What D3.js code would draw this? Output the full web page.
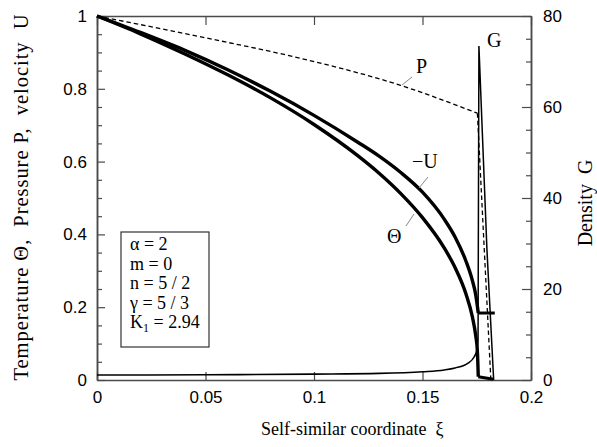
<!DOCTYPE html>
<html>
<head>
<meta charset="utf-8">
<script src="https://cdn.jsdelivr.net/npm/d3@7"></script>
<style>
  html, body { margin: 0; padding: 0; background: #fff; }
  svg { display: block; }
  .serif { font-family: "Liberation Serif", "Times New Roman", serif; }
  .sans { font-family: "Liberation Sans", Arial, sans-serif; }
</style>
</head>
<body>
<svg id="chart" width="597" height="447"></svg>
<script>
// ---- Data ----
const thetaX = [0, 0.02, 0.04, 0.06, 0.08, 0.10, 0.12, 0.13, 0.14, 0.15, 0.16, 0.165, 0.17, 0.173, 0.1745, 0.1753, 0.1757];
const thetaY = [1.0, 0.951, 0.897, 0.839, 0.775, 0.702, 0.617, 0.568, 0.512, 0.446, 0.363, 0.309, 0.237, 0.173, 0.123, 0.078, 0.009];
const thetaTailX = [0.1757, 0.1827];
const thetaTailY = [0.009, 0.002];

const negUX = [0, 0.02, 0.04, 0.06, 0.08, 0.10, 0.12, 0.13, 0.14, 0.15, 0.16, 0.165, 0.17, 0.173, 0.1745, 0.1757];
const negUY = [1.0, 0.955, 0.907, 0.853, 0.793, 0.727, 0.654, 0.615, 0.570, 0.516, 0.442, 0.393, 0.327, 0.273, 0.235, 0.184];
const negUBarX = [0.1756, 0.1833];
const negUBarY = [0.184, 0.184];

const pX = [0, 0.05, 0.09, 0.1396, 0.1753];
const pY = [1.0, 0.940, 0.889, 0.810, 0.733];
const pTailX = [0.1753, 0.1815];
const pTailY = [0.733, 0.0];

const gBaseX = [0, 0.05, 0.1, 0.13, 0.15, 0.16, 0.165, 0.171, 0.1737, 0.1751, 0.1756];
const gBaseY = [1.1, 1.15, 1.3, 1.45, 1.8, 2.2, 2.64, 3.7, 5.0, 6.6, 8.8];
const gSpikeX = [0.1756, 0.1760, 0.1797, 0.1828];
const gSpikeY = [8.8, 73.4, 28.6, 0.0];

const xTicks = [0, 0.05, 0.1, 0.15, 0.2];
const leftTicks = [0, 0.2, 0.4, 0.6, 0.8, 1];
const leftMinor = [0.05, 0.1, 0.15, 0.25, 0.3, 0.35, 0.45, 0.5, 0.55, 0.65, 0.7, 0.75, 0.85, 0.9, 0.95];
const rightTicks = [0, 20, 40, 60, 80];
const rightMinor = [5, 10, 15, 25, 30, 35, 45, 50, 55, 65, 70, 75];

const legendLines = [["α = 2"], ["m = 0"], ["n = 5 / 2"], ["γ = 5 / 3"], ["K", "1", " = 2.94"]];

// ---- Layout ----
const svg = d3.select("#chart");
const x = d3.scaleLinear().domain([0, 0.2]).range([97, 531]);
const yL = d3.scaleLinear().domain([0, 1]).range([380, 16]);
const yR = d3.scaleLinear().domain([0, 80]).range([380, 16]);

const axisColor = "#4a4a4a";
const fmt = d3.format("~g");

function styleAxis(g) {
  g.selectAll("path.domain").attr("stroke", axisColor).attr("stroke-width", 1.5);
  g.selectAll(".tick line").attr("stroke", axisColor).attr("stroke-width", 1.2);
  g.selectAll(".tick text").attr("class", "sans").attr("font-size", 17).attr("fill", "#000");
}

// Left axis
svg.append("g").attr("transform", `translate(${x(0)},0)`)
  .call(d3.axisLeft(yL).tickValues(leftMinor).tickSize(-5).tickSizeOuter(0).tickFormat(""))
  .call(styleAxis);
svg.append("g").attr("transform", `translate(${x(0)},0)`)
  .call(d3.axisLeft(yL).tickValues(leftTicks).tickSize(-8).tickSizeOuter(0).tickPadding(10).tickFormat(fmt))
  .call(styleAxis);

// Right axis
svg.append("g").attr("transform", `translate(${x(0.2)},0)`)
  .call(d3.axisRight(yR).tickValues(rightMinor).tickSize(-5).tickSizeOuter(0).tickFormat(""))
  .call(styleAxis);
svg.append("g").attr("transform", `translate(${x(0.2)},0)`)
  .call(d3.axisRight(yR).tickValues(rightTicks).tickSize(-9).tickSizeOuter(0).tickPadding(12).tickFormat(fmt))
  .call(styleAxis);

// Bottom axis
svg.append("g").attr("transform", `translate(0,${yL(0)})`)
  .call(d3.axisBottom(x).tickValues(xTicks).tickSize(-8).tickSizeOuter(0).tickPadding(11).tickFormat(fmt))
  .call(styleAxis);
// Top axis
svg.append("g").attr("transform", `translate(0,${yL(1)})`)
  .call(d3.axisTop(x).tickValues(xTicks).tickSize(-9).tickSizeOuter(0).tickFormat(""))
  .call(styleAxis);

// ---- Curves ----
const zip = (xs, ys) => xs.map((v, i) => [v, ys[i]]);
const lineL = (curve) => d3.line().x(d => x(d[0])).y(d => yL(d[1])).curve(curve);
const lineR = (curve) => d3.line().x(d => x(d[0])).y(d => yR(d[1])).curve(curve);

const plot = svg.append("g").attr("fill", "none").attr("stroke", "#000");

// Density G (right axis)
plot.append("path").attr("d", lineR(d3.curveMonotoneX)(zip(gBaseX, gBaseY))).attr("stroke-width", 1.6);
plot.append("path").attr("d", lineR(d3.curveLinear)(zip(gSpikeX, gSpikeY))).attr("stroke-width", 1.5).attr("stroke-linejoin", "miter");

// Pressure P (dashed)
plot.append("path").attr("d", lineL(d3.curveMonotoneX)(zip(pX, pY))).attr("stroke-width", 1.3).attr("stroke-dasharray", "4.5,3");
plot.append("path").attr("d", lineL(d3.curveLinear)(zip(pTailX, pTailY))).attr("stroke-width", 1.3).attr("stroke-dasharray", "4.5,3");

// Temperature Θ
plot.append("path").attr("d", lineL(d3.curveMonotoneX)(zip(thetaX, thetaY))).attr("stroke-width", 3.4);
plot.append("path").attr("d", lineL(d3.curveLinear)(zip(thetaTailX, thetaTailY))).attr("stroke-width", 3.2);

// Velocity -U
plot.append("path").attr("d", lineL(d3.curveMonotoneX)(zip(negUX, negUY))).attr("stroke-width", 3.4);
plot.append("path").attr("d", lineL(d3.curveLinear)(zip(negUBarX, negUBarY))).attr("stroke-width", 3);

// ---- Curve labels ----
const lab = svg.append("g").attr("class", "serif").attr("font-size", 20).attr("fill", "#000");
lab.append("text").attr("x", 416).attr("y", 73).text("P");
lab.append("text").attr("x", 412).attr("y", 168).text("−U");
lab.append("text").attr("x", 387).attr("y", 243).text("Θ");
lab.append("text").attr("x", 487).attr("y", 47).text("G");

const leaders = svg.append("g").attr("stroke", "#888").attr("stroke-width", 1);
leaders.append("line").attr("x1", 402).attr("y1", 85).attr("x2", 412).attr("y2", 77);
leaders.append("line").attr("x1", 419).attr("y1", 188).attr("x2", 428).attr("y2", 177);
leaders.append("line").attr("x1", 406).attr("y1", 226).attr("x2", 414).attr("y2", 214);

// ---- Legend box ----
svg.append("rect").attr("x", 121).attr("y", 232).attr("width", 88).attr("height", 115)
  .attr("fill", "#fff").attr("stroke", "#333").attr("stroke-width", 1.2);
const leg = svg.append("g").attr("class", "serif").attr("font-size", 18).attr("fill", "#000");
legendLines.forEach((parts, i) => {
  const t = leg.append("text").attr("x", 130).attr("y", 250 + i * 19.5);
  if (parts.length === 3) {
    t.append("tspan").text(parts[0]);
    t.append("tspan").attr("font-size", 12).attr("dy", 4).text(parts[1]);
    t.append("tspan").attr("dy", -4).text(parts[2]);
  } else {
    t.text(parts[0]);
  }
});

// ---- Axis titles ----
svg.append("text").attr("class", "serif").attr("font-size", 18).attr("x", 261).attr("y", 435)
  .style("white-space", "pre").text("Self-similar coordinate  ξ");
svg.append("text").attr("class", "serif").attr("font-size", 20.5)
  .attr("transform", "translate(28,197.5) rotate(-90)").attr("text-anchor", "middle")
  .attr("textLength", 366).attr("lengthAdjust", "spacing")
  .style("white-space", "pre").text("Temperature Θ,  Pressure P,  velocity  U");
svg.append("text").attr("class", "serif").attr("font-size", 20)
  .attr("transform", "translate(592,203) rotate(-90)").attr("text-anchor", "middle")
  .style("white-space", "pre").text("Density  G");
</script>
</body>
</html>
